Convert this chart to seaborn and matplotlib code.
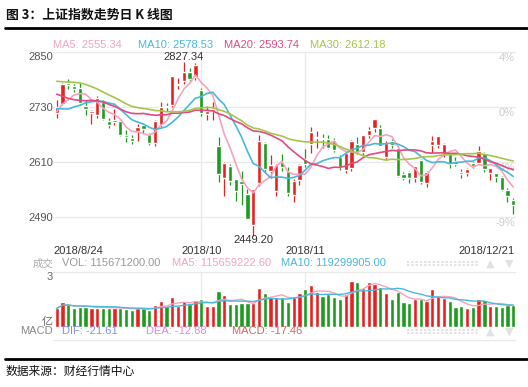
import numpy as np
import pandas as pd
import matplotlib
matplotlib.use("Agg")
import matplotlib.pyplot as plt
from matplotlib.lines import Line2D
import seaborn as sns

# ── data ──
dates = [
    "2018-08-24", "2018-08-27", "2018-08-28", "2018-08-29", "2018-08-30", "2018-08-31",
    "2018-09-03", "2018-09-04", "2018-09-05", "2018-09-06", "2018-09-07",
    "2018-09-10", "2018-09-11", "2018-09-12", "2018-09-13", "2018-09-14",
    "2018-09-17", "2018-09-18", "2018-09-19", "2018-09-20", "2018-09-21",
    "2018-09-25", "2018-09-26", "2018-09-27", "2018-09-28",
    "2018-10-08", "2018-10-09", "2018-10-10", "2018-10-11", "2018-10-12",
    "2018-10-15", "2018-10-16", "2018-10-17", "2018-10-18", "2018-10-19",
    "2018-10-22", "2018-10-23", "2018-10-24", "2018-10-25", "2018-10-26",
    "2018-10-29", "2018-10-30", "2018-10-31", "2018-11-01", "2018-11-02",
    "2018-11-05", "2018-11-06", "2018-11-07", "2018-11-08", "2018-11-09",
    "2018-11-12", "2018-11-13", "2018-11-14", "2018-11-15", "2018-11-16",
    "2018-11-19", "2018-11-20", "2018-11-21", "2018-11-22", "2018-11-23",
    "2018-11-26", "2018-11-27", "2018-11-28", "2018-11-29", "2018-11-30",
    "2018-12-03", "2018-12-04", "2018-12-05", "2018-12-06", "2018-12-07",
    "2018-12-10", "2018-12-11", "2018-12-12", "2018-12-13", "2018-12-14",
    "2018-12-17", "2018-12-18", "2018-12-19", "2018-12-20", "2018-12-21",
]
open_ = [
    2716, 2737, 2782, 2775, 2771, 2732, 2716, 2712, 2742, 2700, 2698,
    2700, 2670, 2662, 2677, 2690, 2672, 2651, 2690, 2732, 2734,
    2777, 2786, 2807, 2795, 2768, 2714, 2722, 2644, 2575,
    2602, 2572, 2568, 2541, 2472, 2565, 2652, 2590, 2546, 2610,
    2590, 2537, 2571, 2617, 2650, 2663, 2662, 2660, 2658, 2622,
    2592, 2598, 2649, 2632, 2669, 2684, 2685, 2620, 2656, 2640,
    2583, 2588, 2575, 2614, 2565, 2647, 2648, 2627, 2629, 2612,
    2589, 2585, 2608, 2608, 2629, 2585, 2585, 2578, 2549, 2528,
]
high = [
    2745, 2783, 2791, 2781, 2782, 2745, 2724, 2753, 2745, 2706, 2725,
    2702, 2679, 2670, 2692, 2694, 2674, 2701, 2741, 2739, 2798,
    2793, 2827.34, 2815, 2826, 2771, 2732, 2741, 2664, 2611,
    2606, 2574, 2591, 2551, 2552, 2670, 2654, 2625, 2606, 2628,
    2600, 2572, 2605, 2638, 2686, 2677, 2671, 2669, 2662, 2626,
    2632, 2659, 2665, 2669, 2687, 2704.5, 2690, 2656, 2660, 2645,
    2589, 2590, 2602, 2616, 2591, 2666, 2667, 2652, 2630, 2621,
    2595, 2596, 2610, 2646, 2632, 2598, 2587, 2580, 2554, 2532,
]
low = [
    2707, 2734, 2770, 2762, 2735, 2713, 2694, 2706, 2701, 2684, 2690,
    2667, 2653, 2650, 2655, 2673, 2648, 2644, 2687, 2721, 2730,
    2770, 2781, 2786, 2789, 2710, 2701, 2701, 2566, 2536,
    2560, 2524, 2516, 2485, 2449.20, 2558, 2588, 2575, 2536, 2591,
    2536, 2522, 2560, 2600, 2630, 2640, 2640, 2638, 2631, 2593,
    2586, 2590, 2628, 2625, 2662, 2676, 2644, 2615, 2640, 2578,
    2570, 2564, 2566, 2561, 2556, 2630, 2640, 2620, 2598, 2601,
    2575, 2580, 2598, 2605, 2589, 2571, 2566, 2546, 2522, 2497,
]
close = [
    2729.43, 2780.90, 2777.98, 2769.30, 2737.74, 2725.25,
    2720.73, 2750.58, 2704.34, 2691.59, 2702.30,
    2669.48, 2664.80, 2656.11, 2686.58, 2681.64,
    2651.79, 2699.95, 2730.85, 2729.24, 2797.49,
    2781.14, 2806.81, 2791.77, 2821.35,
    2716.51, 2721.01, 2725.84, 2583.46, 2606.91,
    2568.10, 2546.33, 2561.61, 2486.42, 2550.47,
    2654.88, 2594.83, 2603.30, 2603.80, 2598.85,
    2542.10, 2568.05, 2602.78, 2606.24, 2676.48,
    2665.43, 2659.36, 2641.34, 2635.63, 2598.87,
    2630.52, 2654.88, 2632.24, 2668.17, 2679.11,
    2703.51, 2645.43, 2651.51, 2646.80, 2579.48,
    2575.81, 2574.68, 2601.74, 2567.44, 2588.19,
    2654.80, 2665.96, 2649.81, 2605.18, 2605.89,
    2584.58, 2594.09, 2602.15, 2634.05, 2593.74,
    2597.97, 2576.65, 2549.56, 2536.27, 2516.25,
]
# closes of the 29 sessions before 2018-08-24 (needed for the MA lines)
prior_close = [
    2814.04, 2798.13, 2787.26, 2772.55, 2829.27, 2859.54, 2905.56, 2903.65,
    2882.23, 2873.59, 2869.05, 2876.40, 2824.53, 2768.02, 2740.44, 2705.16,
    2779.37, 2744.07, 2794.38, 2795.31, 2785.87, 2780.96, 2723.26, 2705.19,
    2668.97, 2698.47, 2733.11, 2714.61, 2724.62,
]
# volume, 亿
volume = [
    1.00, 1.33, 1.22, 1.00, 1.09, 1.09, 1.04, 1.04, 1.04, 1.00, 1.04,
    1.00, 0.95, 0.91, 1.00, 1.00, 0.91, 1.18, 1.40, 1.13, 1.60,
    1.15, 1.40, 1.25, 1.45, 1.50, 1.12, 1.12, 1.96, 1.73,
    1.24, 1.24, 1.31, 1.27, 1.27, 2.09, 1.82, 1.60, 1.60, 1.60,
    1.36, 1.67, 1.82, 2.04, 2.27, 1.91, 1.67, 1.76, 1.60, 1.49,
    1.78, 2.51, 2.42, 2.09, 2.42, 2.33, 2.15, 1.85, 1.49, 1.91,
    1.36, 1.27, 1.49, 1.51, 1.42, 2.05, 1.73, 1.55, 1.42, 1.09,
    1.15, 1.00, 1.05, 1.49, 1.45, 1.15, 1.15, 1.09, 1.18, 1.157,
]

ma_names = ["MA5", "MA10", "MA20", "MA30"]
ma_windows = [5, 10, 20, 30]
ma_colors = ["#f5a3bf", "#48b8dc", "#e24a80", "#a6c54a"]
ma_labels = ["MA5: 2555.34", "MA10: 2578.53", "MA20: 2593.74", "MA30: 2612.18"]

date_ticks = ["2018-08-24", "2018-10-08", "2018-11-01", "2018-12-21"]
date_labels = ["2018/8/24", "2018/10", "2018/11", "2018/12/21"]
price_ticks = [2850, 2730, 2610, 2490]
pct_labels = ["4%", "0%", "-4%", "-9%"]

RED = "#ea2020"
GREEN = "#1c9c1c"

sns.set_theme(style="white")
plt.rcParams["font.family"] = ["Liberation Sans", "Noto Sans CJK SC", "DejaVu Sans"]
plt.rcParams["axes.unicode_minus"] = False

n = len(close)
idx = np.arange(n)
o = np.array(open_)
c = np.array(close)
up = c >= o
cols = np.where(up, RED, GREEN)

full_close = pd.Series(prior_close + close)
ma_frames = []
for name, w in zip(ma_names, ma_windows):
    vals = full_close.rolling(w).mean().to_numpy()[len(prior_close):]
    ma_frames.append(pd.DataFrame({"idx": idx, "value": vals, "ma": name}))
ma_df = pd.concat(ma_frames, ignore_index=True)

vol_s = pd.Series(volume)
vol_df = pd.DataFrame({
    "idx": np.concatenate([idx, idx]),
    "value": np.concatenate([vol_s.rolling(5, min_periods=1).mean(),
                             vol_s.rolling(10, min_periods=1).mean()]),
    "ma": ["MA5"] * n + ["MA10"] * n,
})

# ── layout in pixels ──
W, H = 528, 387
fig = plt.figure(figsize=(W / 100, H / 100), dpi=100)


def box(l, t, r, b):
    return [l / W, 1 - b / H, (r - l) / W, (b - t) / H]


def fx(px):
    return px / W


def fy(py):
    return 1 - py / H


axp = fig.add_axes(box(53, 52, 515, 243))
axv = fig.add_axes(box(53, 271.7, 515, 326.7))
xlim = (-0.64, n - 1 + 0.3)
grid_c = "#e9e9e9"

# price panel
axp.set_xlim(*xlim)
axp.set_ylim(2433.3, 2850)
for v in price_ticks:
    axp.axhline(v, color=grid_c, lw=0.9, zorder=0, clip_on=False)
tick_pos = [dates.index(d) for d in date_ticks]
for p in tick_pos[1:3]:
    axp.axvline(p, color=grid_c, lw=0.9, zorder=0)
    axv.axvline(p, color=grid_c, lw=0.9, zorder=0)

for lab, v in zip(pct_labels, price_ticks):
    axp.text(1.0, v - 1.5, lab, transform=axp.get_yaxis_transform(), ha="right",
             va="top", fontsize=8, color="#cccccc", zorder=0.5)

body_h = np.maximum(np.abs(c - o), 0.9)
axp.vlines(idx, low, high, colors=cols, lw=0.9, zorder=2)
axp.bar(idx, body_h, bottom=np.minimum(o, c), width=0.74, color=cols, zorder=3)

sns.lineplot(data=ma_df, x="idx", y="value", hue="ma", palette=dict(zip(ma_names, ma_colors)),
             lw=1.2, legend=False, ax=axp, zorder=4)

i_hi = int(np.argmax(high))
i_lo = int(np.argmin(low))
axp.annotate(f"{high[i_hi]:.2f}", xy=(i_hi, high[i_hi]), xytext=(0, 0.5),
             textcoords="offset points", ha="center", va="bottom", fontsize=8, color="#333333", zorder=6)
axp.annotate(f"{low[i_lo]:.2f}", xy=(i_lo, low[i_lo]), xytext=(0, 0.5),
             textcoords="offset points", ha="center", va="top", fontsize=8, color="#333333", zorder=6)

axp.set_yticks(price_ticks)
axp.set_yticklabels([str(v) for v in price_ticks])
axp.get_yticklabels()[0].set_va("top")
axp.set_xticks([xlim[0], tick_pos[1], tick_pos[2], xlim[1]])
axp.set_xticklabels(date_labels)
xl = axp.get_xticklabels()
xl[0].set_ha("left")
xl[-1].set_ha("right")
axp.tick_params(axis="y", length=0, pad=0, labelsize=8, labelcolor="#555555")
axp.tick_params(axis="x", length=0, pad=2.5, labelsize=8, labelcolor="#333333")
axp.set_xlabel("")
axp.set_ylabel("")
for s in axp.spines.values():
    s.set_visible(False)

# volume panel
axv.bar(idx, volume, width=0.74, color=cols, zorder=2)
sns.lineplot(data=vol_df, x="idx", y="value", hue="ma",
             palette={"MA5": ma_colors[0], "MA10": ma_colors[1]},
             lw=1.0, legend=False, ax=axv, zorder=4)
axv.set_xlim(*xlim)
axv.set_ylim(0, 3)
axv.axhline(3, color=grid_c, lw=0.9, zorder=0, clip_on=False)
axv.set_yticks([3, 0])
axv.set_yticklabels(["3", "亿"])
axv.get_yticklabels()[0].set_va("top")
axv.get_yticklabels()[1].set_va("bottom")
axv.set_xticks([])
axv.tick_params(axis="y", length=0, pad=0, labelsize=8, labelcolor="#666666")
axv.set_xlabel("")
axv.set_ylabel("")
for s in axv.spines.values():
    s.set_visible(False)

# ── header texts ──
for x0, lab, col in zip([53, 138, 224, 310], ma_labels, ma_colors):
    fig.text(fx(x0), fy(45), lab, fontsize=8, color=col, va="center", ha="left")

fig.text(fx(53), fy(263.5), "成交", fontsize=7.5, color="#aaaaaa", va="center", ha="right")
fig.text(fx(61.5), fy(263.5), "VOL: 115671200.00", fontsize=8, color="#999999", va="center")
fig.text(fx(171.5), fy(263.5), "MA5: 115659222.60", fontsize=8, color="#f5a3bf", va="center")
fig.text(fx(281), fy(263.5), "MA10: 119299905.00", fontsize=8, color="#48b8dc", va="center")

fig.text(fx(53), fy(331.5), "MACD", fontsize=8, color="#888888", va="center", ha="right")
fig.text(fx(61.5), fy(331.5), "DIF: -21.61", fontsize=8, color="#8090e8", va="center")
fig.text(fx(146.5), fy(331.5), "DEA: -12.88", fontsize=8, color="#e286e8", va="center")
fig.text(fx(231.5), fy(331.5), "MACD: -17.46", fontsize=8, color="#d06464", va="center")
fig.add_artist(Line2D([fx(53), fx(515)], [fy(340), fy(340)], color=grid_c, lw=0.9))

# little toolbar marks on the right
for yy in (263.5, 331.5):
    for dy in (-1.6, 1.6):
        fig.add_artist(Line2D([fx(407), fx(479)], [fy(yy + dy), fy(yy + dy)], color="#e2e2e2",
                              lw=1.4, ls=(0, (1.2, 1.0))))
    fig.text(fx(490.5), fy(yy), "▲", fontsize=8, color="#e2e2e2", ha="center", va="center",
             family=["DejaVu Sans"])
    fig.text(fx(509.5), fy(yy), "▼", fontsize=8, color="#e2e2e2", ha="center", va="center",
             family=["DejaVu Sans"])

# title, rules and source
fig.text(fx(6), fy(15), "图 3：上证指数走势日 K 线图", fontsize=9.3, fontweight="bold", color="#111111",
         va="center", ha="left", family=["Noto Sans CJK SC", "DejaVu Sans"])
fig.add_artist(Line2D([fx(5), fx(527)], [fy(28), fy(28)], color="black", lw=2.0))
fig.add_artist(Line2D([fx(5), fx(527)], [fy(358.5), fy(358.5)], color="black", lw=2.0))
fig.text(fx(6), fy(371), "数据来源：财经行情中心", fontsize=8.5, color="#111111", va="center", ha="left",
         family=["Noto Sans CJK SC", "DejaVu Sans"])

fig.savefig("out.png", dpi=100)
plt.close(fig)
